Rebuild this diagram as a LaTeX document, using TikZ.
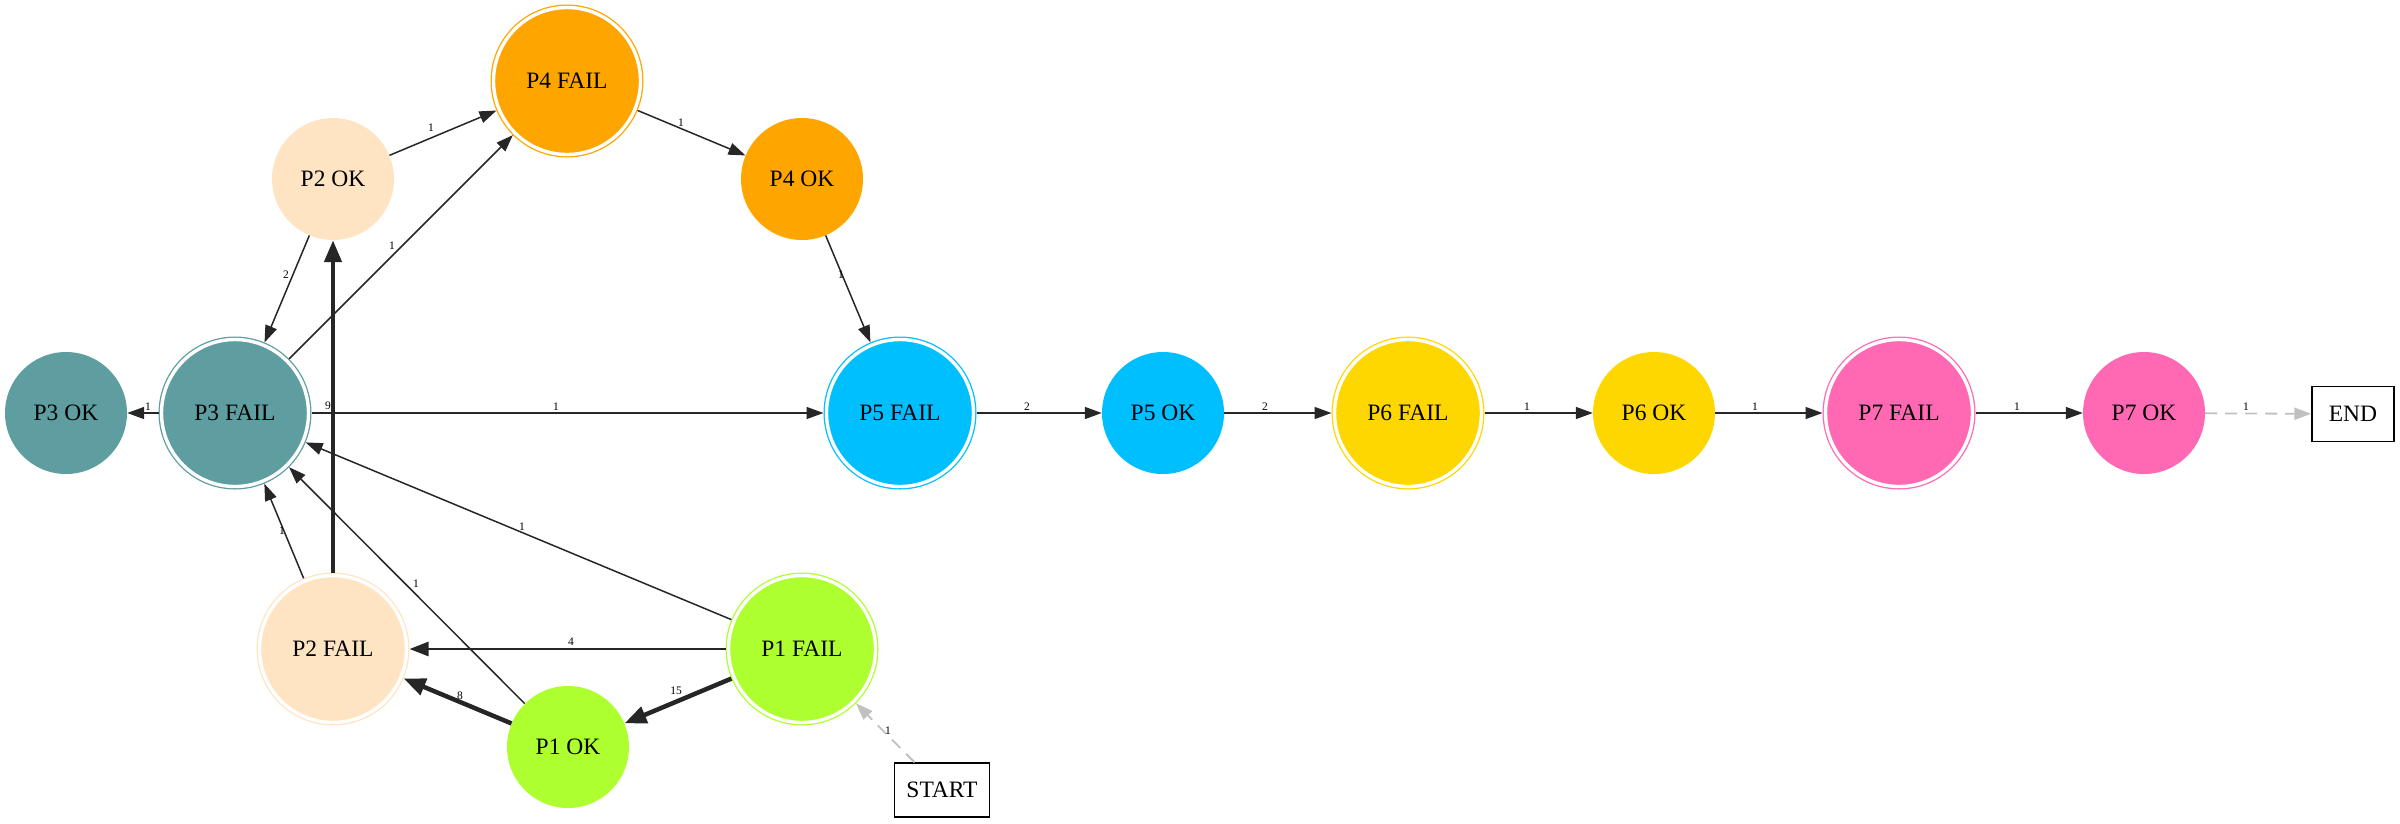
\documentclass[tikz,border=0pt]{standalone}
\usepackage{fontspec}
\setmainfont{Liberation Serif}
\usetikzlibrary{arrows.meta}
\definecolor{tealc}{HTML}{5F9EA0}
\definecolor{bisquec}{HTML}{FFE4C4}
\definecolor{orangec}{HTML}{FFA500}
\definecolor{skyc}{HTML}{00BFFF}
\definecolor{goldc}{HTML}{FFD700}
\definecolor{pinkc}{HTML}{FF69B4}
\definecolor{limec}{HTML}{ADFF2F}
\definecolor{edgec}{HTML}{262626}
\definecolor{ghostc}{HTML}{C0C0C0}
\tikzset{
  oknode/.style={circle, fill=#1, draw=none, minimum size=122pt, inner sep=0pt,
    font=\fontsize{23.5}{28}\selectfont},
  failnode/.style={circle, fill=#1, draw=#1, line width=1.3pt, double=white,
    double distance=3.4pt, minimum size=147pt, inner sep=0pt, outer sep=3pt,
    font=\fontsize{23.5}{28}\selectfont},
  termnode/.style={rectangle, draw=black, line width=1.5pt, fill=white,
    inner sep=0pt, font=\fontsize{23.5}{28}\selectfont},
  tr/.style={draw=edgec, line width=1.5pt, -{Triangle[length=17pt,width=12pt]}},
  trmid/.style={draw=edgec, line width=2.6pt, -{Triangle[length=19pt,width=14pt]}},
  trheavy/.style={draw=edgec, line width=4.5pt, -{Triangle[length=22pt,width=17pt]}},
  trghost/.style={draw=ghostc, line width=1.8pt, dash pattern=on 12pt off 8pt,
    -{Triangle[length=17pt,width=12pt]}},
  lbl/.style={font=\fontsize{11.5}{13}\selectfont, text=black, inner sep=0pt},
}
\begin{document}
\begin{tikzpicture}[x=1pt, y=-1pt]
\useasboundingbox (0,0) rectangle (2400,823);

% states
\node[oknode=tealc]    (p3ok)   at (66,413)   {P3 OK};
\node[failnode=tealc]  (p3fail) at (235,413)  {P3 FAIL};
\node[oknode=bisquec]  (p2ok)   at (333,179)  {P2 OK};
\node[failnode=orangec](p4fail) at (567,81)   {P4 FAIL};
\node[oknode=orangec]  (p4ok)   at (802,179)  {P4 OK};
\node[failnode=skyc]   (p5fail) at (900,413)  {P5 FAIL};
\node[oknode=skyc]     (p5ok)   at (1163,413) {P5 OK};
\node[failnode=goldc]  (p6fail) at (1408,413) {P6 FAIL};
\node[oknode=goldc]    (p6ok)   at (1654,413) {P6 OK};
\node[failnode=pinkc]  (p7fail) at (1899,413) {P7 FAIL};
\node[oknode=pinkc]    (p7ok)   at (2144,413) {P7 OK};
\node[termnode, minimum width=82pt, minimum height=55pt] (end) at (2353,414) {END};
\node[failnode=bisquec](p2fail) at (333,649)  {P2 FAIL};
\node[failnode=limec]  (p1fail) at (802,649)  {P1 FAIL};
\node[oknode=limec]    (p1ok)   at (568,747)  {P1 OK};
\node[termnode, minimum width=95pt, minimum height=54pt] (start) at (942,790) {START};

% transitions
\draw[tr] (p2ok) -- (p4fail) node[lbl] at (431,128) {1};
\draw[tr] (p4fail) -- (p4ok) node[lbl] at (681,123) {1};
\draw[tr] (p4ok) -- (p5fail) node[lbl] at (841,275) {1};
\draw[tr] (p2ok) -- (p3fail) node[lbl] at (286,275) {2};
\draw[tr] (p3fail) -- (p4fail) node[lbl] at (392,246) {1};
\draw[tr] (p3fail) -- (p3ok) node[lbl] at (148,407) {1};
\draw[tr] (p3fail) -- (p5fail) node[lbl] at (556,407) {1};
\draw[trheavy] (p2fail) -- (p2ok) node[lbl] at (328,406) {9};
\draw[tr] (p2fail) -- (p3fail) node[lbl] at (282,531) {1};
\draw[tr] (p1ok) -- (p3fail) node[lbl] at (416,584) {1};
\draw[tr] (p1fail) -- (p3fail) node[lbl] at (522,527) {1};
\draw[trmid] (p1fail) -- (p2fail) node[lbl] at (571,642) {4};
\draw[trheavy] (p1fail) -- (p1ok) node[lbl] at (676,691) {15};
\draw[trheavy] (p1ok) -- (p2fail) node[lbl] at (460,696) {8};
\draw[trghost] (start) -- (p1fail) node[lbl] at (888,731) {1};
\draw[tr] (p5fail) -- (p5ok) node[lbl] at (1027,407) {2};
\draw[tr] (p5ok) -- (p6fail) node[lbl] at (1265,407) {2};
\draw[tr] (p6fail) -- (p6ok) node[lbl] at (1527,407) {1};
\draw[tr] (p6ok) -- (p7fail) node[lbl] at (1755,407) {1};
\draw[tr] (p7fail) -- (p7ok) node[lbl] at (2017,407) {1};
\draw[trghost] (p7ok) -- (end) node[lbl] at (2246,407) {1};
\end{tikzpicture}
\end{document}
